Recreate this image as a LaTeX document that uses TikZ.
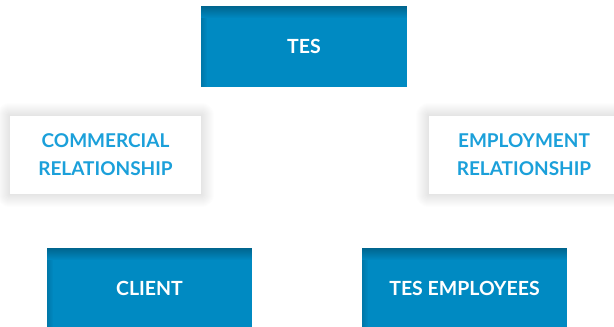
\documentclass[tikz,border=0pt]{standalone}
\usepackage{fontspec}
\setmainfont{Lato}
\usetikzlibrary{backgrounds}
\definecolor{tesblue}{HTML}{008AC2}
\definecolor{tesdark}{HTML}{005F86}
\definecolor{teslight}{HTML}{1BA0DA}
\tikzset{
  bluebox/.style={fill=tesblue, text=white, font=\bfseries\fontsize{19.5}{22}\selectfont,
    minimum width=#1, minimum height=81pt, inner sep=0pt,
    path picture={
      % darker band fading down from the top edge
      \foreach \i [evaluate=\i as \op using (12-\i)/14, evaluate=\i as \j using \i+1] in {0,...,11}
        \fill[tesdark, fill opacity=\op]
          ([yshift=-\i pt]path picture bounding box.north west) rectangle
          ([yshift=-\j pt]path picture bounding box.north east);
      % slight darkening along the left edge
      \foreach \i [evaluate=\i as \op using (6-\i)/14, evaluate=\i as \j using \i+1] in {0,...,5}
        \fill[tesdark, fill opacity=\op]
          ([xshift=\i pt, yshift=-12pt]path picture bounding box.north west) rectangle
          ([xshift=\j pt]path picture bounding box.south west);
    }},
  whitebox/.style={fill=white, text=teslight, align=center,
    font=\bfseries\fontsize{19}{28}\selectfont,
    minimum width=#1, minimum height=78pt, inner sep=0pt},
  softshadow/.style={fill=black, fill opacity=0.009},
}
\begin{document}
\begin{tikzpicture}[x=1pt,y=1pt]
  \useasboundingbox (0,0) rectangle (614,327);
  \node[bluebox=206pt] (tes) at (304,280.5) {TES};
  \node[whitebox=191pt] (commercial) at (105.5,172) {\raisebox{-2pt}{COMMERCIAL}\\\raisebox{-2pt}{RELATIONSHIP}};
  \node[whitebox=190pt] (employment) at (524,172) {\raisebox{-2pt}{EMPLOYMENT}\\\raisebox{-2pt}{RELATIONSHIP}};
  \node[bluebox=205pt] (client) at (149.5,38.5) {CLIENT};
  \node[bluebox=205pt] (employees) at (464.5,38.5) {TES EMPLOYEES};
  \begin{scope}[on background layer]
    \fill[white] (0,0) rectangle (614,327);
    % soft shadow around the relationship boxes
    \foreach \n in {commercial, employment}
      \foreach \r [evaluate=\r as \c using \r+2] in {1,...,13}
        \fill[softshadow, rounded corners=\r pt]
          ([shift={(-\r pt,-\c pt)}]\n.south west) rectangle
          ([shift={(\r pt,\r pt)}]\n.north east);
  \end{scope}
\end{tikzpicture}
\end{document}
